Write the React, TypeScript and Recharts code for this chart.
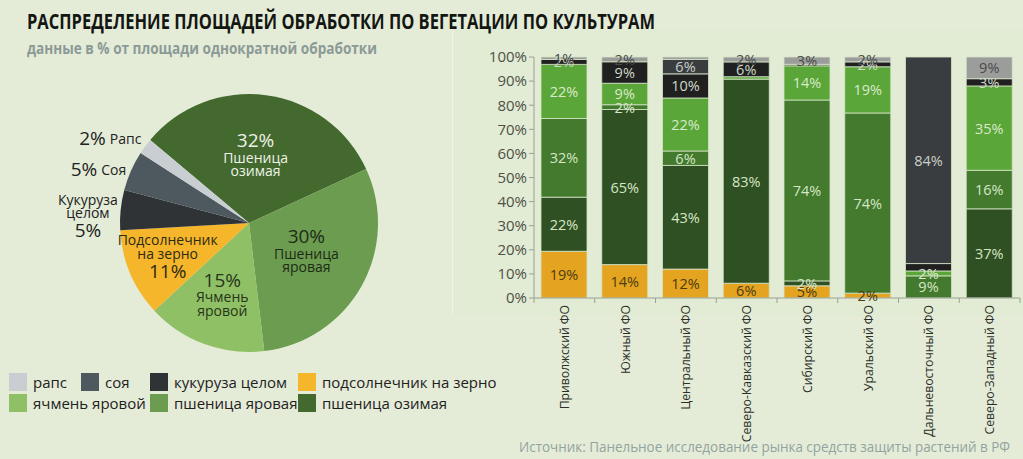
import React from "react";
import { PieChart, Pie, Cell, BarChart, Bar, XAxis, YAxis, LabelList } from "recharts";

// ---- pie: share of treated area by crop, clockwise from the top-left ----
const pieCrops = [
  "пшеница озимая",
  "пшеница яровая",
  "ячмень яровой",
  "подсолнечник на зерно",
  "кукуруза целом",
  "соя",
  "рапс",
];
const pieShares = [32, 30, 15, 11, 5, 5, 2];
const pieLabelNames = [
  ["Пшеница", "озимая"],
  ["Пшеница", "яровая"],
  ["Ячмень", "яровой"],
  ["Подсолнечник", "на зерно"],
  ["Кукуруза", "целом"],
  ["Соя"],
  ["Рапс"],
];

// ---- bars: crop structure by federal district (stacked bottom to top) ----
const regions = [
  "Приволжский ФО",
  "Южный ФО",
  "Центральный ФО",
  "Северо-Кавказский ФО",
  "Сибирский ФО",
  "Уральский ФО",
  "Дальневосточный ФО",
  "Северо-Западный ФО",
];
const sunflower = [19, 14, 12, 6, 5, 2, 0, 0];
const winterWheat = [22, 65, 43, 83, 2, 0, 0, 37];
const springWheat = [32, 2, 6, 0, 74, 74, 9, 16];
const springBarley = [22, 9, 22, 1, 14, 19, 2, 35];
const corn = [2, 9, 10, 6, 0.6, 2, 3, 3];
const soy = [0, 0, 6, 0, 0, 0, 84, 0];
const rapeseed = [1, 2, 1, 2, 3, 2, 0, 9];
// thin segments that carry no label in the original
const unlabeled: [string, string][] = [
  ["Центральный ФО", "rapeseed"],
  ["Северо-Кавказский ФО", "springBarley"],
  ["Сибирский ФО", "corn"],
  ["Дальневосточный ФО", "corn"],
];

const yTicks = [0, 0.1, 0.2, 0.3, 0.4, 0.5, 0.6, 0.7, 0.8, 0.9, 1];

const legendItems = [
  "рапс",
  "соя",
  "кукуруза целом",
  "подсолнечник на зерно",
  "ячмень яровой",
  "пшеница яровая",
  "пшеница озимая",
];

const FONT = "'Open Sans', 'Noto Sans', sans-serif";

const pieColors: Record<string, string> = {
  "пшеница озимая": "#43692f",
  "пшеница яровая": "#6b9c50",
  "ячмень яровой": "#90c065",
  "подсолнечник на зерно": "#f6b62c",
  "кукуруза целом": "#2f3336",
  "соя": "#4e595f",
  "рапс": "#c9ced2",
};
const pieTextColors = ["#eef3e6", "#1f2a16", "#26341a", "#2c2a12", "#222", "#222", "#222"];

const series = [
  { key: "sunflower", values: sunflower, color: "#e4a420", text: "#4b3a12" },
  { key: "winterWheat", values: winterWheat, color: "#2f5022", text: "#d6e6c6" },
  { key: "springWheat", values: springWheat, color: "#437a2e", text: "#d6e6c6" },
  { key: "springBarley", values: springBarley, color: "#5ba638", text: "#d9eacb" },
  { key: "corn", values: corn, color: "#1f201f", text: "#cfd8c8" },
  { key: "soy", values: soy, color: "#3a3d40", text: "#c9cfc8" },
  { key: "rapeseed", values: rapeseed, color: "#9b9d9b", text: "#4a4b4a" },
];

const pieData = pieCrops.map((name, i) => ({ name, value: pieShares[i] }));
const barData = regions.map((region, i) => {
  const row: Record<string, number | string> = { region };
  series.forEach((s) => (row[s.key] = s.values[i]));
  return row;
});

const RADIAN = Math.PI / 180;

// radial placement of each pie label (fraction of radius, extra angle in degrees)
const pieLabelPlace = [
  [0.52, 2],
  [0.5, 2],
  [0.6, 0],
  [0.68, -1],
  [1.25, 3],
  [1.24, 4],
  [1.26, 5],
];

function PieLabel(props: any) {
  const { cx, cy, midAngle, outerRadius, index } = props;
  const [f, da] = pieLabelPlace[index];
  const r = outerRadius * f;
  const a = (midAngle + da) * RADIAN;
  const x = cx + r * Math.cos(-a);
  const y = cy + r * Math.sin(-a);
  const pct = `${pieShares[index]}%`;
  const names = pieLabelNames[index];
  const color = pieTextColors[index];
  if (names.length === 1) {
    return (
      <text x={x} y={y} textAnchor="middle" dominantBaseline="central" fill={color} fontFamily={FONT}>
        <tspan fontSize={19}>{pct}</tspan>
        <tspan fontSize={14} dx={4}>{names[0]}</tspan>
      </text>
    );
  }
  const pctFirst = index <= 2;
  const lines = pctFirst ? [pct, ...names] : [...names, pct];
  // line offsets: the percentage line is a bit farther from the names
  const offs = pctFirst ? [-16, 1, 14.5] : [-16, -2.5, 15];
  return (
    <text textAnchor="middle" fill={color} fontFamily={FONT}>
      {lines.map((l, i) => (
        <tspan
          key={i}
          x={x}
          y={y + offs[i]}
          dominantBaseline="central"
          fontSize={l === pct ? 19 : 14}
        >
          {l}
        </tspan>
      ))}
    </text>
  );
}

const PLOT_LEFT = 74;
const BAND = (563 - 74 - 3) / regions.length;

function makeBarLabel(s: (typeof series)[number]) {
  return (props: any) => {
    const { x, y, width, height } = props;
    const idx =
      props.payload && props.payload.region
        ? regions.indexOf(props.payload.region)
        : Math.floor((x + width / 2 - PLOT_LEFT) / BAND);
    const v = s.values[idx];
    if (!v || unlabeled.some(([r, k]) => r === regions[idx] && k === s.key)) return null;
    return (
      <text
        x={x + width / 2}
        y={y + height / 2}
        textAnchor="middle"
        dominantBaseline="central"
        fill={s.text}
        fontSize={14.5}
        fontFamily={FONT}
      >
        {`${v}%`}
      </text>
    );
  };
}

function RegionTick(props: any) {
  const { x, y, payload, index } = props;
  const half = payload.offset || BAND / 2;
  return (
    <g>
      <line x1={x - half} y1={y - 8} x2={x - half} y2={y - 3} stroke="#9aa194" />
      {index === regions.length - 1 && (
        <line x1={x + half} y1={y - 8} x2={x + half} y2={y - 3} stroke="#9aa194" />
      )}
      <text
        x={x}
        y={y - 1}
        transform={`rotate(-90, ${x}, ${y - 1})`}
        textAnchor="end"
        dominantBaseline="central"
        fill="#2b2f28"
        fontSize={12.2}
        fontFamily={FONT}
      >
        {payload.value}
      </text>
    </g>
  );
}

const legendPos = [
  [9, 373],
  [81, 373],
  [150, 373],
  [298, 373],
  [9, 394],
  [150, 394],
  [298, 394],
];

export default function App() {
  return (
    <div
      style={{
        position: "absolute",
        left: 0,
        top: 0,
        width: 1023,
        height: 459,
        background: "#e4ecd8",
        overflow: "hidden",
        fontFamily: FONT,
      }}
    >
      <div
        style={{
          position: "absolute",
          left: 452,
          top: 28,
          width: 571,
          height: 288,
          background: "#e2ebd3",
          borderLeft: "1px solid #eef3e6",
        }}
      />
      <svg width={1023} height={70} style={{ position: "absolute", left: 0, top: 0 }}>
        <text x={27} y={29} fontSize={21} fontWeight={700} fill="#141612" textLength={628} lengthAdjust="spacingAndGlyphs">
          РАСПРЕДЕЛЕНИЕ ПЛОЩАДЕЙ ОБРАБОТКИ ПО ВЕГЕТАЦИИ ПО КУЛЬТУРАМ
        </text>
        <text x={27} y={54} fontSize={16} fontWeight={700} fill="#8b9a96" textLength={350} lengthAdjust="spacingAndGlyphs">
          данные в % от площади однократной обработки
        </text>
      </svg>

      <div style={{ position: "absolute", left: 0, top: 0 }}>
        <PieChart width={460} height={360}>
          <Pie
            data={pieData}
            dataKey="value"
            cx={244}
            cy={218}
            outerRadius={129}
            startAngle={140}
            endAngle={-220}
            stroke="none"
            label={PieLabel}
            labelLine={false}
            isAnimationActive={false}
          >
            {pieData.map((d) => (
              <Cell key={d.name} fill={pieColors[d.name]} />
            ))}
          </Pie>
        </PieChart>
      </div>

      {legendItems.map((name, i) => (
        <div
          key={name}
          style={{
            position: "absolute",
            left: legendPos[i][0],
            top: legendPos[i][1],
            display: "flex",
            alignItems: "center",
            height: 18,
            fontSize: 15,
            color: "#1f211d",
            whiteSpace: "nowrap",
          }}
        >
          <span style={{ width: 18, height: 18, background: pieColors[name], marginRight: 6 }} />
          {name}
        </div>
      ))}

      <div style={{ position: "absolute", left: 460, top: 0 }}>
        <BarChart
          width={563}
          height={459}
          data={barData}
          stackOffset="expand"
          margin={{ top: 57, right: 3, left: 0, bottom: 0 }}
          barSize={46}
        >
          <XAxis
            dataKey="region"
            height={161}
            interval={0}
            tick={<RegionTick />}
            tickLine={false}
            axisLine={{ stroke: "#9aa194" }}
          />
          <YAxis
            width={74}
            domain={[0, 1]}
            ticks={yTicks}
            tickFormatter={(v: number) => `${Math.round(v * 100)}%`}
            tick={{ fill: "#4d5249", fontSize: 15, fontFamily: FONT }}
            tickSize={5}
            tickLine={{ stroke: "#9aa194" }}
            axisLine={{ stroke: "#9aa194" }}
            interval={0}
          />
          {series.map((s) => (
            <Bar
              key={s.key}
              dataKey={s.key}
              stackId="a"
              fill={s.color}
              stroke="#d7e4c9"
              strokeWidth={0.8}
              isAnimationActive={false}
            >
              <LabelList dataKey={s.key} content={makeBarLabel(s)} />
            </Bar>
          ))}
        </BarChart>
      </div>

      <svg width={1023} height={459} style={{ position: "absolute", left: 0, top: 0, pointerEvents: "none" }}>
        <text x={519} y={452} fontSize={15} fill="#93a3a0" textLength={491} lengthAdjust="spacingAndGlyphs">
          Источник:  Панельное исследование рынка средств защиты растений в РФ
        </text>
      </svg>
    </div>
  );
}
